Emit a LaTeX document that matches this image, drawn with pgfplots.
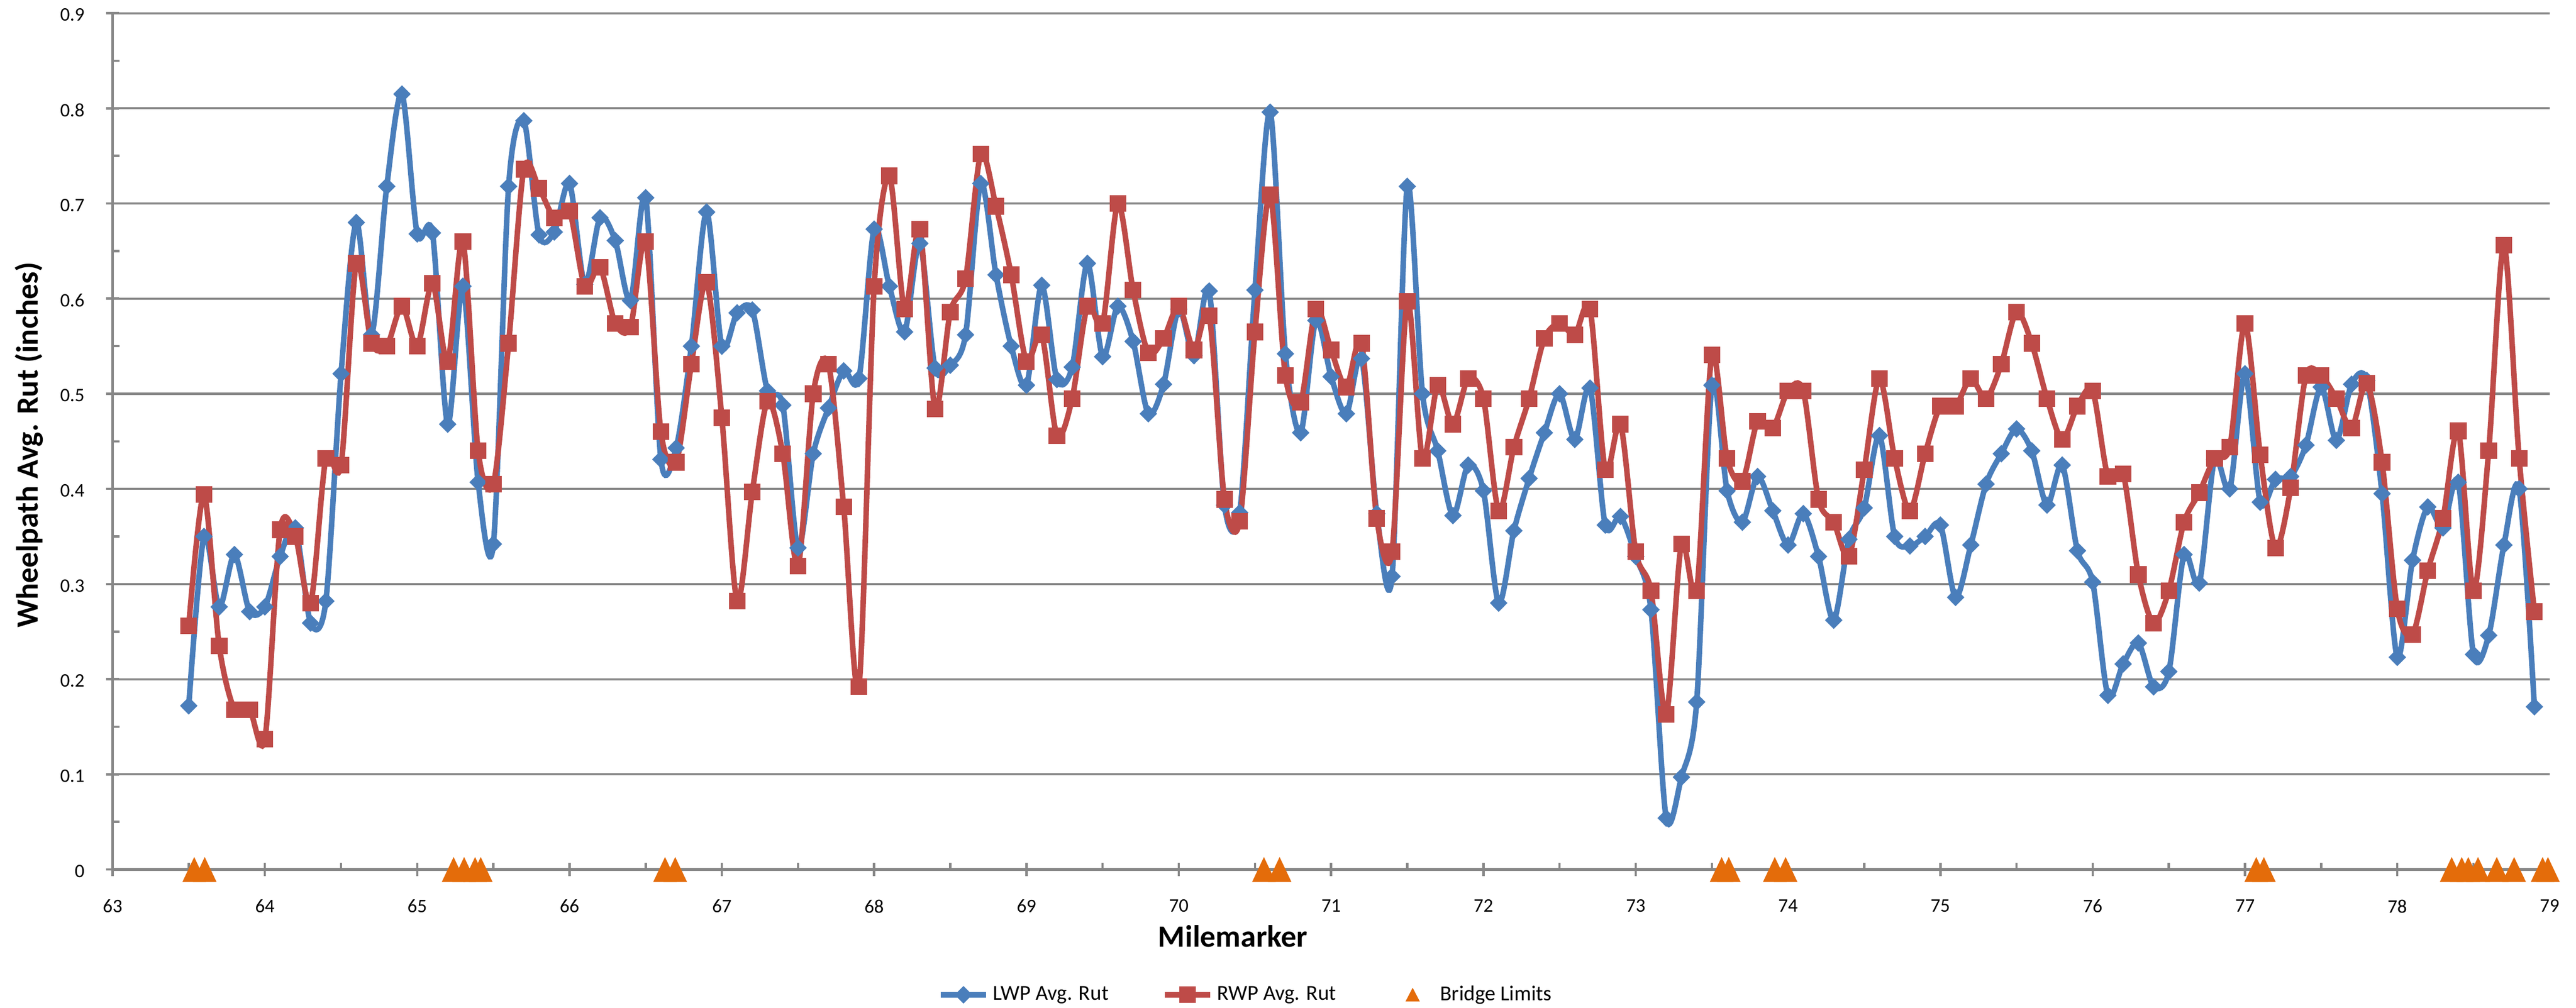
\documentclass[border=0pt]{standalone}
\usepackage{fontspec}
\setmainfont{Carlito}
\usepackage{pgfplots}
\pgfplotsset{compat=1.18}
\usepackage{pgfplotstable}

\definecolor{lwpblue}{HTML}{4A7EBB}
\definecolor{rwpred}{HTML}{BE4B48}
\definecolor{bridgeorange}{HTML}{E46C0A}
\definecolor{axisgray}{HTML}{878787}

\pgfplotsset{
    rut legend/.style={legend image code/.code={
        \draw[mark repeat=2, mark phase=2, ##1]
            plot coordinates {(0pt,0pt) (10.7pt,0pt) (21.4pt,0pt)};}},
    bridgemark legend/.style={legend image code/.code={
        \path (0pt,0pt) (21.4pt,0pt);
        \draw[##1, mark size=4pt,
            mark options={xscale=0.9, yshift=-1pt, line width=0.3pt, fill=bridgeorange}]
            plot coordinates {(10.7pt,0pt)};}},
}

% wheelpath rut depths, one row per 0.1 mile
\pgfplotstableread{
mile lwp rwp
63.5 0.172 0.256
63.6 0.350 0.394
63.7 0.276 0.235
63.8 0.331 0.168
63.9 0.271 0.168
64.0 0.276 0.137
64.1 0.329 0.357
64.2 0.359 0.350
64.3 0.259 0.280
64.4 0.282 0.432
64.5 0.521 0.425
64.6 0.680 0.637
64.7 0.562 0.553
64.8 0.718 0.550
64.9 0.815 0.592
65.0 0.668 0.550
65.1 0.669 0.616
65.2 0.468 0.534
65.3 0.613 0.660
65.4 0.407 0.440
65.5 0.342 0.405
65.6 0.718 0.553
65.7 0.787 0.736
65.8 0.667 0.716
65.9 0.670 0.685
66.0 0.721 0.692
66.1 0.615 0.613
66.2 0.685 0.633
66.3 0.661 0.574
66.4 0.598 0.570
66.5 0.706 0.660
66.6 0.431 0.460
66.7 0.443 0.428
66.8 0.550 0.531
66.9 0.691 0.617
67.0 0.550 0.475
67.1 0.585 0.282
67.2 0.588 0.397
67.3 0.503 0.492
67.4 0.488 0.437
67.5 0.338 0.319
67.6 0.437 0.500
67.7 0.485 0.531
67.8 0.524 0.381
67.9 0.516 0.192
68.0 0.673 0.613
68.1 0.613 0.729
68.2 0.565 0.589
68.3 0.658 0.673
68.4 0.527 0.484
68.5 0.530 0.586
68.6 0.562 0.621
68.7 0.721 0.752
68.8 0.625 0.697
68.9 0.550 0.625
69.0 0.509 0.534
69.1 0.614 0.562
69.2 0.515 0.456
69.3 0.528 0.495
69.4 0.637 0.592
69.5 0.539 0.574
69.6 0.592 0.700
69.7 0.555 0.609
69.8 0.479 0.543
69.9 0.510 0.558
70.0 0.589 0.592
70.1 0.540 0.546
70.2 0.608 0.582
70.3 0.383 0.389
70.4 0.375 0.366
70.5 0.609 0.565
70.6 0.796 0.709
70.7 0.542 0.519
70.8 0.459 0.491
70.9 0.577 0.589
71.0 0.518 0.546
71.1 0.479 0.507
71.2 0.537 0.553
71.3 0.374 0.369
71.4 0.308 0.334
71.5 0.718 0.597
71.6 0.500 0.432
71.7 0.440 0.509
71.8 0.372 0.468
71.9 0.425 0.516
72.0 0.398 0.495
72.1 0.280 0.377
72.2 0.356 0.444
72.3 0.411 0.495
72.4 0.459 0.558
72.5 0.500 0.574
72.6 0.452 0.562
72.7 0.506 0.589
72.8 0.362 0.420
72.9 0.371 0.468
73.0 0.329 0.334
73.1 0.273 0.293
73.2 0.054 0.163
73.3 0.097 0.342
73.4 0.176 0.293
73.5 0.509 0.541
73.6 0.398 0.432
73.7 0.365 0.408
73.8 0.413 0.471
73.9 0.377 0.464
74.0 0.341 0.503
74.1 0.374 0.503
74.2 0.329 0.389
74.3 0.262 0.365
74.4 0.347 0.329
74.5 0.380 0.420
74.6 0.456 0.516
74.7 0.350 0.432
74.8 0.340 0.377
74.9 0.350 0.437
75.0 0.362 0.487
75.1 0.286 0.487
75.2 0.341 0.516
75.3 0.405 0.495
75.4 0.437 0.531
75.5 0.463 0.586
75.6 0.440 0.553
75.7 0.383 0.495
75.8 0.425 0.452
75.9 0.335 0.487
76.0 0.302 0.503
76.1 0.183 0.413
76.2 0.216 0.416
76.3 0.238 0.310
76.4 0.192 0.259
76.5 0.208 0.293
76.6 0.331 0.365
76.7 0.301 0.396
76.8 0.431 0.432
76.9 0.400 0.444
77.0 0.521 0.574
77.1 0.386 0.436
77.2 0.410 0.338
77.3 0.413 0.401
77.4 0.446 0.519
77.5 0.507 0.519
77.6 0.451 0.495
77.7 0.510 0.464
77.8 0.514 0.511
77.9 0.395 0.428
78.0 0.223 0.274
78.1 0.325 0.247
78.2 0.381 0.314
78.3 0.359 0.369
78.4 0.407 0.461
78.5 0.226 0.293
78.6 0.246 0.440
78.7 0.341 0.656
78.8 0.400 0.432
78.9 0.171 0.271
}\rutdata

% bridge limits, drawn on the zero line
\pgfplotstableread{
mile y
63.536 0
63.605 0
65.239 0
65.308 0
65.380 0
65.417 0
66.627 0
66.694 0
70.559 0
70.662 0
73.564 0
73.611 0
73.913 0
73.984 0
77.074 0
77.124 0
78.357 0
78.423 0
78.466 0
78.530 0
78.653 0
78.767 0
78.954 0
78.989 0
}\bridgedata

\begin{document}
\begin{tikzpicture}
\path[use as bounding box] (-52.9pt,-65.1pt) rectangle (1157.4pt,408.6pt);
\begin{axis}[
    at={(0pt,0pt)}, anchor=south west,
    scale only axis,
    width=1145pt, height=402.4pt,
    xmin=63, xmax=79, ymin=0, ymax=0.9,
    xtick={63,64,...,79},
    ytick={0,0.1,0.2,0.3,0.4,0.5,0.6,0.7,0.8,0.9},
    minor x tick num=1, minor y tick num=1,
    axis x line*=bottom, axis y line*=left,
    axis line style={-, draw=axisgray, line width=1.35pt},
    tick align=center,
    major tick length=6.2pt, minor tick length=3.2pt,
    tick style={draw=axisgray, line width=1.1pt},
    minor x tick style={yshift=1.6pt},
    minor y tick style={xshift=1.6pt},
    ymajorgrids,
    major grid style={draw=axisgray, line width=1pt},
    scaled y ticks=false,
    /pgf/number format/assume math mode=true,
    ticklabel style={font=\fontsize{9}{10}\selectfont},
    yticklabel style={xshift=-6.6pt, yshift=-0.8pt},
    xticklabel style={yshift=-7.6pt},
    xlabel={Milemarker},
    ylabel={Wheelpath Avg. Rut (inches)},
    xlabel style={at={(axis description cs:0.4597,-0.0783)}, anchor=center,
        font=\fontsize{14.5}{16}\selectfont\bfseries},
    ylabel style={at={(axis description cs:-0.0344,0.4957)}, anchor=center,
        font=\fontsize{14.5}{16}\selectfont\bfseries},
    clip=false,
    legend columns=3,
    legend cell align=left,
    legend style={at={(axis description cs:0.3385,-0.1464)}, anchor=west,
        draw=none, fill=none, inner sep=0pt,
        font=\fontsize{10}{12}\selectfont,
        /tikz/every even column/.append style={column sep=23pt}},
]
\addplot[lwpblue, line width=2.6pt, smooth,
    mark=diamond*, mark size=3.85pt,
    mark options={xscale=1.33, line width=0.4pt, fill=lwpblue},
    rut legend]
    table[x=mile, y=lwp] {\rutdata};
\addlegendentry{LWP Avg. Rut}

\addplot[rwpred, line width=2.6pt, smooth,
    mark=square*, mark size=3.7pt,
    mark options={line width=0.4pt, fill=rwpred},
    rut legend]
    table[x=mile, y=rwp] {\rutdata};
\addlegendentry{RWP Avg. Rut}

\addplot[only marks, bridgeorange,
    mark=triangle*, mark size=7.5pt,
    mark options={xscale=0.82, yshift=-2pt, line width=0.3pt, fill=bridgeorange},
    bridgemark legend]
    table[x=mile, y=y] {\bridgedata};
\addlegendentry{Bridge Limits}
\end{axis}
\end{tikzpicture}
\end{document}
